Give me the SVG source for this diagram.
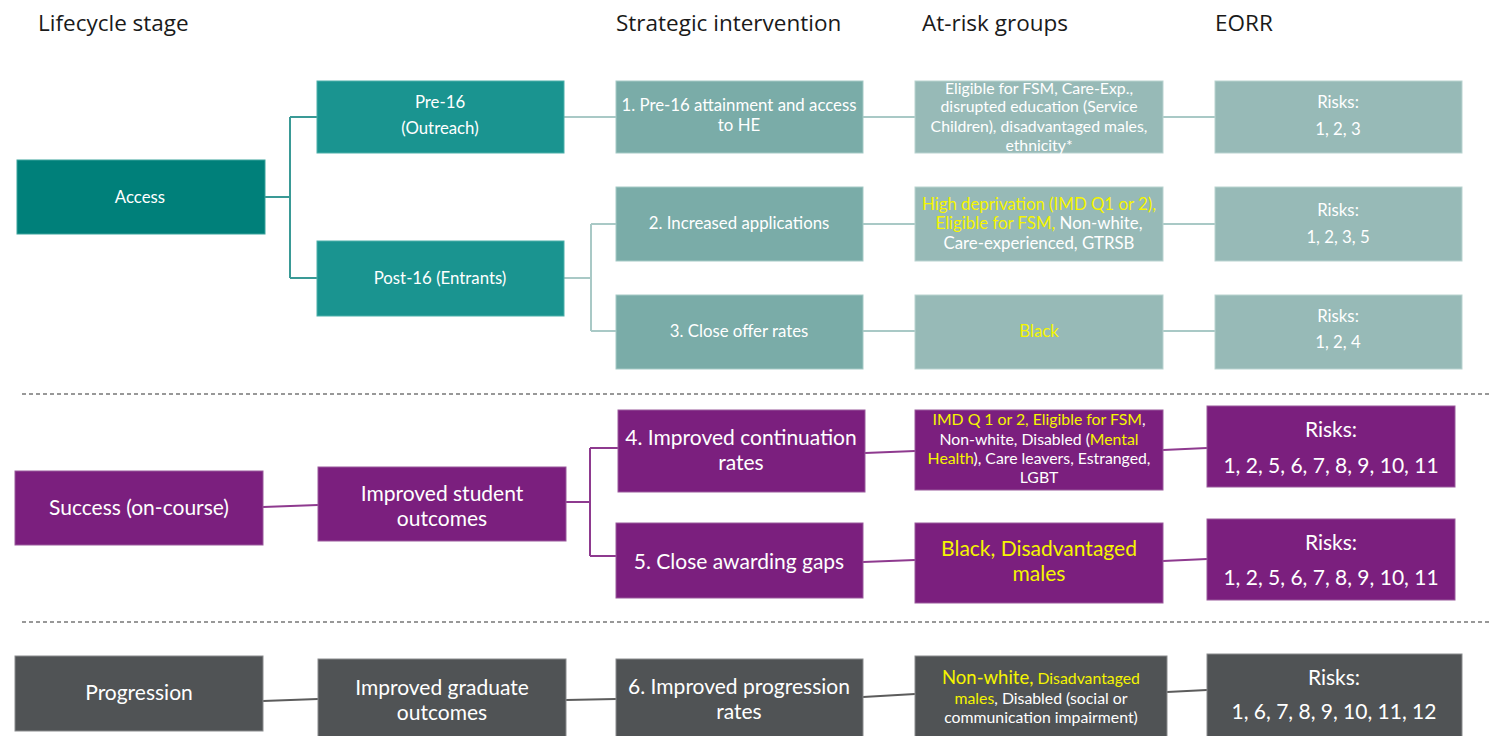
<svg xmlns="http://www.w3.org/2000/svg" width="1492" height="736" viewBox="0 0 1492 736">
<style>
.hdr{font-family:"Open Sans","Noto Sans",sans-serif;font-size:22.5px;fill:#1a1a1a}
.t{font-family:Lato,"Liberation Sans",sans-serif;fill:#ffffff;text-anchor:middle}
.s14{font-size:16.8px}
.s13{font-size:15.8px}
.s19{font-size:21px}
.y{fill:#f5f500}
.tealD{fill:#00807a;stroke:#3aa39c;stroke-width:1}
.teal{fill:#1a9490;stroke:#4cb0aa;stroke-width:1}
.tealL{fill:#7aaca8;stroke:#a5cac6;stroke-width:1}
.tealP{fill:#97bab7;stroke:#b9d3d0;stroke-width:1}
.pur{fill:#7b1f7e;stroke:#9a5a9c;stroke-width:1}
.gry{fill:#505355;stroke:#8a8c8e;stroke-width:1}
.cT{fill:none;stroke:#3a9a96;stroke-width:2}
.cL{fill:none;stroke:#a9c9c6;stroke-width:2}
.cP{fill:none;stroke:#8e3a8f;stroke-width:2}
.cG{fill:none;stroke:#5c5c5c;stroke-width:2}
.dash{stroke:#777;stroke-width:1.5;stroke-dasharray:4 3}
</style>
<rect width="1492" height="736" fill="#ffffff"/>
<g id="headers">
<text class="hdr" x="38" y="31">Lifecycle stage</text>
<text class="hdr" x="616" y="31">Strategic intervention</text>
<text class="hdr" x="922" y="31">At-risk groups</text>
<text class="hdr" x="1215" y="31">EORR</text>
</g>
<g id="dividers">
<line class="dash" x1="22" y1="394" x2="1492" y2="394"/>
<line class="dash" x1="22" y1="622" x2="1492" y2="622"/>
</g>
<g id="connectors">
<path class="cT" d="M265 197 H290 M290 117 V278 M290 117 H317 M290 278 H317"/>
<path class="cL" d="M564 117 H616 M863 117 H915 M1163 117 H1215"/>
<path class="cL" d="M564 278 H591 M591 224 V331 M591 224 H616 M591 331 H616"/>
<path class="cL" d="M863 224 H915 M1163 224 H1215 M863 331 H915 M1163 331 H1215"/>
<path class="cP" d="M263 507 L318 505"/>
<path class="cP" d="M566 502 H590 M590 448 V556 M590 448 H618 M590 556 H616"/>
<path class="cP" d="M865 453 L915 451 M1163 450 L1207 448 M863 562 L915 560 M1163 561 L1207 559"/>
<path class="cG" d="M263 701 L318 699 M566 700 L616 699 M863 697 L915 694 M1167 692 L1207 690"/>
</g>
<g id="access"><rect class="tealD" x="17" y="160" width="248" height="74"/><text class="t s14" x="140" y="203">Access</text></g>
<g id="pre16"><rect class="teal" x="317" y="81" width="247" height="72"/><text class="t s14" x="440" y="108">Pre-16</text><text class="t s14" x="440" y="134">(Outreach)</text></g>
<g id="post16"><rect class="teal" x="317" y="241" width="247" height="75"/><text class="t s14" x="440" y="284">Post-16 (Entrants)</text></g>
<g id="si1"><rect class="tealL" x="616" y="81" width="247" height="72"/><text class="t s14" x="739" y="111">1. Pre-16 attainment and access</text><text class="t s14" x="739" y="131">to HE</text></g>
<g id="ar1"><rect class="tealP" x="915" y="81" width="248" height="72"/>
<text class="t s13" x="1039" y="94">Eligible for FSM, Care-Exp.,</text>
<text class="t s13" x="1039" y="112">disrupted education (Service</text>
<text class="t s13" x="1039" y="132">Children), disadvantaged males,</text>
<text class="t s13" x="1039" y="151">ethnicity*</text></g>
<g id="eorr1"><rect class="tealP" x="1215" y="81" width="247" height="72"/><text class="t s14" x="1338" y="108">Risks:</text><text class="t s14" x="1338" y="135">1, 2, 3</text></g>
<g id="si2"><rect class="tealL" x="616" y="187" width="247" height="74"/><text class="t s14" x="739" y="229">2. Increased applications</text></g>
<g id="ar2"><rect class="tealP" x="915" y="187" width="248" height="74"/>
<text class="t s14" x="1039" y="210"><tspan class="y">High deprivation (IMD Q1 or 2),</tspan></text>
<text class="t s14" x="1039" y="229"><tspan class="y">Eligible for FSM,</tspan> Non-white,</text>
<text class="t s14" x="1039" y="249">Care-experienced, GTRSB</text></g>
<g id="eorr2"><rect class="tealP" x="1215" y="187" width="247" height="74"/><text class="t s14" x="1338" y="216">Risks:</text><text class="t s14" x="1338" y="243">1, 2, 3, 5</text></g>
<g id="si3"><rect class="tealL" x="616" y="295" width="247" height="74"/><text class="t s14" x="739" y="337">3. Close offer rates</text></g>
<g id="ar3"><rect class="tealP" x="915" y="295" width="248" height="74"/><text class="t s14 y" x="1039" y="337">Black</text></g>
<g id="eorr3"><rect class="tealP" x="1215" y="295" width="247" height="74"/><text class="t s14" x="1338" y="322">Risks:</text><text class="t s14" x="1338" y="348">1, 2, 4</text></g>
<g id="success"><rect class="pur" x="15" y="471" width="248" height="74"/><text class="t s19" x="139" y="515">Success (on-course)</text></g>
<g id="iso"><rect class="pur" x="318" y="467" width="248" height="74"/><text class="t s19" x="442" y="501">Improved student</text><text class="t s19" x="442" y="526">outcomes</text></g>
<g id="si4"><rect class="pur" x="618" y="410" width="247" height="82"/><text class="t s19" x="741" y="445">4. Improved continuation</text><text class="t s19" x="741" y="470">rates</text></g>
<g id="ar4"><rect class="pur" x="915" y="410" width="248" height="80"/>
<text class="t s13" x="1039" y="425"><tspan class="y">IMD Q 1 or 2, Eligible for FSM</tspan>,</text>
<text class="t s13" x="1039" y="445">Non-white, Disabled (<tspan class="y">Mental</tspan></text>
<text class="t s13" x="1039" y="464"><tspan class="y">Health</tspan>), Care leavers, Estranged,</text>
<text class="t s13" x="1039" y="483">LGBT</text></g>
<g id="eorr4"><rect class="pur" x="1207" y="406" width="248" height="81"/><text class="t s19" x="1331" y="437">Risks:</text><text class="t s19" x="1331" y="473">1, 2, 5, 6, 7, 8, 9, 10, 11</text></g>
<g id="si5"><rect class="pur" x="616" y="523" width="247" height="75"/><text class="t s19" x="739" y="569">5. Close awarding gaps</text></g>
<g id="ar5"><rect class="pur" x="915" y="523" width="248" height="80"/><text class="t s19 y" x="1039" y="556">Black, Disadvantaged</text><text class="t s19 y" x="1039" y="581">males</text></g>
<g id="eorr5"><rect class="pur" x="1207" y="519" width="248" height="81"/><text class="t s19" x="1331" y="550">Risks:</text><text class="t s19" x="1331" y="585">1, 2, 5, 6, 7, 8, 9, 10, 11</text></g>
<g id="progression"><rect class="gry" x="15" y="656" width="248" height="75"/><text class="t s19" x="139" y="700">Progression</text></g>
<g id="igo"><rect class="gry" x="318" y="659" width="248" height="82"/><text class="t s19" x="442" y="695">Improved graduate</text><text class="t s19" x="442" y="720">outcomes</text></g>
<g id="si6"><rect class="gry" x="616" y="659" width="247" height="82"/><text class="t s19" x="739" y="694">6. Improved progression</text><text class="t s19" x="739" y="719">rates</text></g>
<g id="ar6"><rect class="gry" x="915" y="656" width="252" height="85"/>
<text class="t s13" x="1041" y="684"><tspan class="y" font-size="18.5">Non-white,</tspan><tspan class="y"> Disadvantaged</tspan></text>
<text class="t s13" x="1041" y="704"><tspan class="y">males</tspan>, Disabled (social or</text>
<text class="t s13" x="1041" y="723">communication impairment)</text></g>
<g id="eorr6"><rect class="gry" x="1207" y="654" width="255" height="87"/><text class="t s19" x="1334" y="685">Risks:</text><text class="t s19" x="1334" y="719">1, 6, 7, 8, 9, 10, 11, 12</text></g>
</svg>
